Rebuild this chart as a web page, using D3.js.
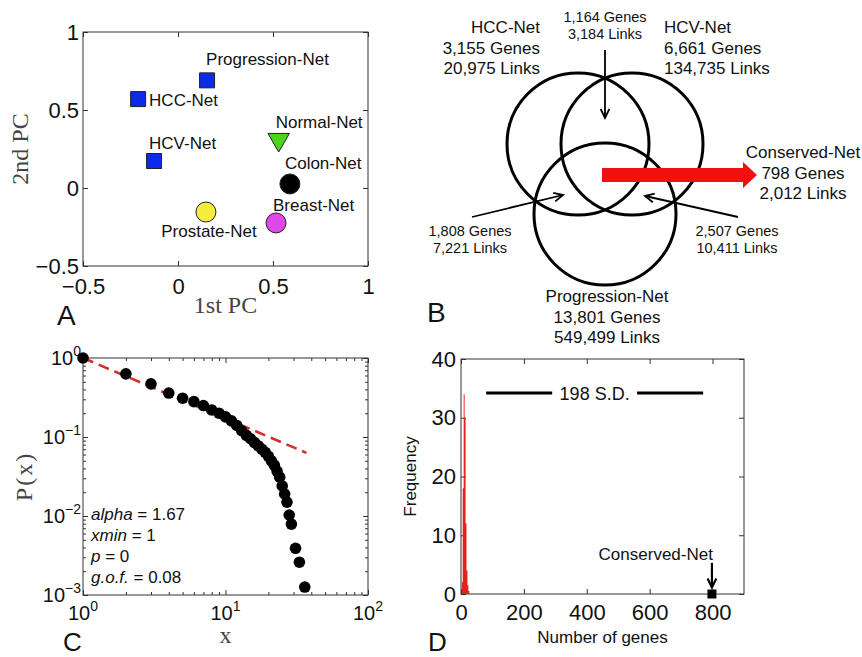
<!DOCTYPE html>
<html>
<head>
<meta charset="utf-8">
<script src="https://cdn.jsdelivr.net/npm/d3@7"></script>
<style>
    body { margin: 0; background: #fff; }
    text { font-family: "Liberation Sans", Arial, Helvetica, sans-serif; fill: #111; }
    .serif { font-family: "Liberation Serif", "Times New Roman", serif; fill: #444; }
</style>
</head>
<body>
<div id="chart"></div>
<script>
// ---------- data ----------
// A: first two principal components of each network
const pcaNames = ['Progression-Net', 'HCC-Net', 'HCV-Net', 'Normal-Net', 'Colon-Net', 'Prostate-Net', 'Breast-Net'];
const pcaX = [0.153, -0.21, -0.126, 0.53, 0.589, 0.147, 0.516];
const pcaY = [0.69, 0.57, 0.173, 0.31, 0.026, -0.154, -0.224];
const pcaShape = ['square', 'square', 'square', 'triangle', 'circle', 'circle', 'circle'];
const pcaTicks = [-0.5, 0, 0.5, 1];

// B: network overlap
const vennNames = ['HCC-Net', 'HCV-Net', 'Progression-Net'];
const vennGenes = [3155, 6661, 13801];
const vennLinks = [20975, 134735, 549499];
const overlapGenes = [1164, 1808, 2507];   // HCC&HCV, HCC&Progression, HCV&Progression
const overlapLinks = [3184, 7221, 10411];
const conservedName = 'Conserved-Net';
const conservedGenes = 798;
const conservedLinks = 2012;

// C: degree distribution (CCDF) of the conserved network
const degX = [1, 2, 3, 4, 5, 6, 7, 8, 9, 10, 11, 12, 13, 14, 15, 16, 17, 18, 19, 20,
              21, 22, 23, 24, 25, 26, 27, 28, 29, 31, 33, 36];
const degP = [1, 0.63, 0.47, 0.36, 0.31, 0.28, 0.25, 0.22, 0.2, 0.18, 0.16, 0.14, 0.12, 0.105, 0.095, 0.085, 0.077, 0.07, 0.064, 0.057,
              0.05, 0.044, 0.037, 0.031, 0.024, 0.019, 0.015, 0.0103, 0.0079, 0.0039, 0.0026, 0.00126];
const fitX = [1, 37];
const fitP = [1, 0.063];
const statNames = ['alpha', 'xmin', 'p', 'g.o.f.'];
const statValues = ['1.67', '1', '0', '0.08'];

// D: random-network null distribution of conserved genes
const histX = [4, 7, 10, 13, 16, 19, 22, 25];
const histY = [2, 18, 34, 30, 12, 4, 1.5, 0.5];
const histBin = 3;
const sdLabel = '198 S.D.';
const sdY = 34.2;
const sdSegments = [[80, 290], [560, 770]];
const dTicksX = [0, 200, 400, 600, 800];
const dTicksY = [0, 10, 20, 30, 40];

// ---------- drawing ----------
const width = 862, height = 657;
const svg = d3.select('#chart').append('svg')
    .attr('width', width).attr('height', height);
svg.append('rect').attr('width', width).attr('height', height).attr('fill', '#fff');

const fmt = d3.format(',');

// box with inward ticks on all four sides
function frame(g, x, y, o) {
    const [x0, x1] = x.range();
    const [y0, y1] = y.range();
    const sides = [
        { ax: d3.axisBottom(x).tickValues(o.xTicks), t: `translate(0,${y0})`, fmt: o.xFormat, pad: o.xPad },
        { ax: d3.axisTop(x).tickValues(o.xTicks), t: `translate(0,${y1})` },
        { ax: d3.axisLeft(y).tickValues(o.yTicks), t: `translate(${x0},0)`, fmt: o.yFormat, pad: o.yPad },
        { ax: d3.axisRight(y).tickValues(o.yTicks), t: `translate(${x1},0)` }
    ];
    sides.forEach((s, i) => {
        const a = g.append('g')
            .attr('transform', s.t)
            .call(s.ax.tickSize(-4).tickSizeOuter(0).tickPadding(s.pad || 0)
                .tickFormat(s.fmt || (() => '')));
        a.select('.domain').remove();
        a.selectAll('.tick line').attr('stroke', '#333')
            .attr(i < 2 ? 'y2' : 'x2', d => {
                const k = (i === 1 || i === 2) ? 1 : -1;
                const major = o.isMajor ? o.isMajor(d) : true;
                return k * (major ? 5 : 3);
            });
        a.attr('font-family', null).attr('font-size', o.fontSize || 22);
        a.selectAll('.tick text').attr('fill', '#111');
    });
    g.append('rect')
        .attr('x', x0).attr('y', y1)
        .attr('width', x1 - x0).attr('height', y0 - y1)
        .attr('fill', 'none').attr('stroke', '#333').attr('stroke-width', 1);
}

function panelLetter(x, y, s, size) {
    svg.append('text').attr('x', x).attr('y', y)
        .attr('font-size', size || 28).text(s);
}

// ---- A ----
const gA = svg.append('g');
const xA = d3.scaleLinear().domain([-0.5, 1]).range([83, 368]);
const yA = d3.scaleLinear().domain([-0.5, 1]).range([266, 32]);
frame(gA, xA, yA, {
    xTicks: pcaTicks, yTicks: pcaTicks,
    xFormat: d3.format('~g'), yFormat: d3.format('~g'),
    xPad: 12, yPad: 4
});

const pcaColors = { square: '#0b2be8', triangle: '#4fd41e' };
const circleFill = ['#000', '#f4ee3a', '#de48e4'];
const labelOffset = [[-1, -15, 'start'], [11, 7, 'start'], [-5, -12, 'start'], [-3, -12, 'start'],
                     [-5, -15, 'start'], [3, 25, 'middle'], [-3, -12, 'start']];
let ci = 0;
pcaNames.forEach((name, i) => {
    const px = xA(pcaX[i]), py = yA(pcaY[i]);
    const shape = pcaShape[i];
    if (shape === 'circle') {
        gA.append('circle').attr('cx', px).attr('cy', py).attr('r', 10)
            .attr('fill', circleFill[ci++]).attr('stroke', '#222').attr('stroke-width', 1);
    } else {
        const sym = shape === 'square'
            ? d3.symbol(d3.symbolSquare, 225)
            : d3.symbol(d3.symbolTriangle, 200);
        gA.append('path').attr('d', sym())
            .attr('transform', `translate(${px},${py})` + (shape === 'triangle' ? ' rotate(180)' : ''))
            .attr('fill', pcaColors[shape]).attr('stroke', '#222').attr('stroke-width', 1);
    }
    const off = labelOffset[i];
    gA.append('text').attr('x', px + off[0]).attr('y', py + off[1])
        .attr('text-anchor', off[2]).attr('font-size', 17).text(name);
});
gA.append('text').attr('class', 'serif')
    .attr('x', (xA.range()[0] + xA.range()[1]) / 2).attr('y', 313)
    .attr('text-anchor', 'middle').attr('font-size', 24).text('1st PC');
gA.append('text').attr('class', 'serif')
    .attr('transform', `translate(28,${(yA.range()[0] + yA.range()[1]) / 2}) rotate(-90)`)
    .attr('text-anchor', 'middle').attr('font-size', 24).text('2nd PC');
panelLetter(57, 325, 'A');

// ---- B ----
const gB = svg.append('g');
const vennR = 71;
const vennCenters = [[578, 144], [632, 144], [605, 214]];
gB.selectAll('.venn').data(vennNames).enter().append('circle')
    .attr('cx', (d, i) => vennCenters[i][0]).attr('cy', (d, i) => vennCenters[i][1])
    .attr('r', vennR).attr('fill', 'none').attr('stroke', '#000').attr('stroke-width', 3);

function textBlock(g, x, y, lines, anchor, size, step) {
    const t = g.append('text').attr('x', x).attr('y', y)
        .attr('text-anchor', anchor).attr('font-size', size);
    lines.forEach((l, i) => t.append('tspan').attr('x', x).attr('dy', i ? step : 0).text(l));
}
const setLabelPos = [[540, 33, 'end'], [664, 33, 'start'], [607, 302, 'middle']];
vennNames.forEach((n, i) => {
    const p = setLabelPos[i];
    textBlock(gB, p[0], p[1], [n, fmt(vennGenes[i]) + ' Genes', fmt(vennLinks[i]) + ' Links'], p[2], 17, 20.5);
});

function arrow(g, x1, y1, x2, y2, w) {
    g.append('line').attr('x1', x1).attr('y1', y1).attr('x2', x2).attr('y2', y2)
        .attr('stroke', '#000').attr('stroke-width', w);
    const a = Math.atan2(y2 - y1, x2 - x1), L = 10, s = 0.45;
    const head = d3.line()([
        [x2 - L * Math.cos(a - s), y2 - L * Math.sin(a - s)],
        [x2, y2],
        [x2 - L * Math.cos(a + s), y2 - L * Math.sin(a + s)]
    ]);
    g.append('path').attr('d', head).attr('fill', 'none')
        .attr('stroke', '#000').attr('stroke-width', w);
}
const overlapPos = [
    { tx: 605, ty: 22, a: [605, 50, 605, 118] },
    { tx: 470, ty: 236, a: [472, 217, 563, 195] },
    { tx: 737, ty: 236, a: [738, 217, 645, 196] }
];
overlapGenes.forEach((g, i) => {
    const p = overlapPos[i];
    textBlock(gB, p.tx, p.ty, [fmt(g) + ' Genes', fmt(overlapLinks[i]) + ' Links'], 'middle', 14.5, 17);
    arrow(gB, ...p.a, 1.8);
});
// red arrow to the conserved network
gB.append('path')
    .attr('d', d3.line()([[602, 168], [743, 168], [743, 162], [757, 175], [743, 188], [743, 182], [602, 182]]) + 'Z')
    .attr('fill', '#f01010');
textBlock(gB, 803, 158, [conservedName, conservedGenes + ' Genes', fmt(conservedLinks) + ' Links'], 'middle', 17, 20.5);
panelLetter(427, 322, 'B');

// ---- C ----
const gC = svg.append('g');
const xC = d3.scaleLog().domain([1, 100]).range([83, 368]);
const yC = d3.scaleLog().domain([1e-3, 1]).range([595, 358]);
const logTicks = (lo, hi) => {
    const out = [];
    for (let e = lo; e < hi; e++) for (let m = 1; m < 10; m++) out.push(m * Math.pow(10, e));
    out.push(Math.pow(10, hi));
    return out;
};
const isDecade = d => Math.abs(Math.log10(d) - Math.round(Math.log10(d))) < 1e-9;
frame(gC, xC, yC, {
    xTicks: logTicks(0, 2), yTicks: logTicks(-3, 0), isMajor: isDecade
});
// power-tick labels
[1, 10, 100].forEach(v => {
    const t = gC.append('text').attr('x', xC(v)).attr('y', 620)
        .attr('text-anchor', 'middle').attr('font-size', 20);
    t.append('tspan').text('10');
    t.append('tspan').attr('dy', -9).attr('font-size', 14).text(Math.round(Math.log10(v)));
});
[1, 0.1, 0.01, 0.001].forEach(v => {
    const e = Math.round(Math.log10(v));
    const t = gC.append('text').attr('x', 81).attr('y', yC(v) + 7)
        .attr('text-anchor', 'end').attr('font-size', 20);
    t.append('tspan').text('10');
    t.append('tspan').attr('dy', -9).attr('font-size', 14).text(e === 0 ? '0' : '\u2212' + (-e));
});
const fitLine = d3.line().x(d => xC(d[0])).y(d => yC(d[1]));
gC.append('path').attr('d', fitLine(fitX.map((x, i) => [x, fitP[i]])))
    .attr('fill', 'none').attr('stroke', '#d3302c').attr('stroke-width', 2.6)
    .attr('stroke-dasharray', '11,6');
gC.selectAll('.dot').data(degX).enter().append('circle')
    .attr('cx', d => xC(d)).attr('cy', (d, i) => yC(degP[i]))
    .attr('r', 5.8).attr('fill', '#000');
statNames.forEach((n, i) => {
    const t = gC.append('text').attr('x', 91).attr('y', 520 + i * 21).attr('font-size', 17);
    t.append('tspan').attr('font-style', 'italic').text(n);
    t.append('tspan').text(' = ' + statValues[i]);
});
gC.append('text').attr('class', 'serif')
    .attr('x', (xC.range()[0] + xC.range()[1]) / 2).attr('y', 643)
    .attr('text-anchor', 'middle').attr('font-size', 24).text('x');
gC.append('text').attr('class', 'serif')
    .attr('transform', `translate(32,${(yC.range()[0] + yC.range()[1]) / 2}) rotate(-90)`)
    .attr('text-anchor', 'middle').attr('font-size', 24).attr('letter-spacing', 2).text('P(x)');
panelLetter(63, 651, 'C', 26);

// ---- D ----
const gD = svg.append('g');
const xD = d3.scaleLinear().domain([0, 900]).range([461, 744]);
const yD = d3.scaleLinear().domain([0, 40]).range([594, 359]);
frame(gD, xD, yD, {
    xTicks: dTicksX, yTicks: dTicksY,
    xFormat: d3.format('d'), yFormat: d3.format('d'),
    xPad: 10, yPad: 5
});
// histogram as one stepped outline so the thin bins do not leave seams
const histSteps = [];
histX.forEach((c, i) => {
    histSteps.push([c - histBin / 2, histY[i]]);
    histSteps.push([c + histBin / 2, histY[i]]);
});
gD.append('path')
    .attr('d', d3.area().x(d => xD(d[0])).y0(yD(0)).y1(d => yD(d[1]))(histSteps))
    .attr('fill', '#e3231b');
sdSegments.forEach(s => {
    gD.append('line').attr('x1', xD(s[0])).attr('x2', xD(s[1]))
        .attr('y1', yD(sdY)).attr('y2', yD(sdY))
        .attr('stroke', '#000').attr('stroke-width', 3);
});
gD.append('text').attr('x', xD((sdSegments[0][1] + sdSegments[1][0]) / 2)).attr('y', yD(sdY) + 7)
    .attr('text-anchor', 'middle').attr('font-size', 18).text(sdLabel);
gD.append('rect')
    .attr('x', xD(conservedGenes) - 4.5).attr('y', yD(0) - 4.5)
    .attr('width', 9).attr('height', 9).attr('fill', '#000');
arrow(gD, xD(conservedGenes), yD(5.3), xD(conservedGenes), yD(1.1), 2.2);
gD.append('text').attr('x', xD(conservedGenes) + 1).attr('y', yD(5.8))
    .attr('text-anchor', 'end').attr('font-size', 17).text(conservedName);
gD.append('text').attr('x', (xD.range()[0] + xD.range()[1]) / 2).attr('y', 643)
    .attr('text-anchor', 'middle').attr('font-size', 17).text('Number of genes');
gD.append('text')
    .attr('transform', `translate(416,${(yD.range()[0] + yD.range()[1]) / 2}) rotate(-90)`)
    .attr('text-anchor', 'middle').attr('font-size', 17).text('Frequency');
panelLetter(428, 651, 'D', 26);
</script>
</body>
</html>
